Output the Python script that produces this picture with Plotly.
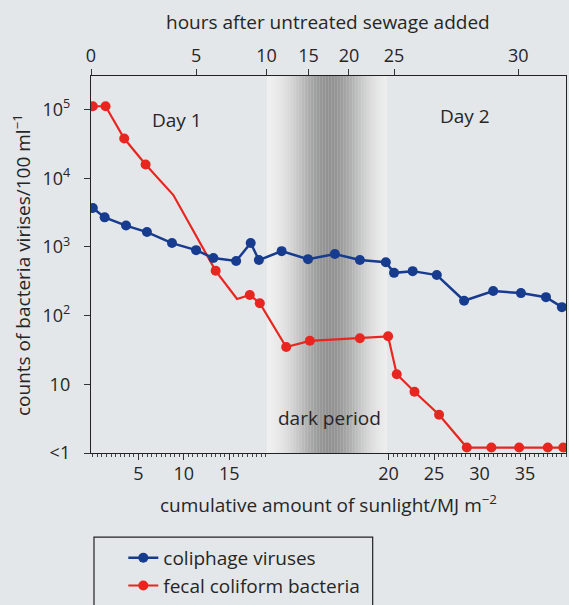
import numpy as np
import plotly.graph_objects as go

# ---- data (x in axis position units along the broken time/sunlight axis) ----
coliphage_x = [0.0, 1.3, 3.65, 5.95, 8.7, 11.35, 13.25, 15.75, 17.35, 18.25, 20.75, 23.65,
               26.6, 29.35, 32.2, 33.1, 35.15, 37.8, 40.8, 44.0, 47.05, 49.8, 51.55]
coliphage_counts = [3700, 2700, 2050, 1650, 1140, 900, 690, 625, 1140, 645, 870, 665,
                    790, 645, 600, 420, 445, 390, 165, 228, 213, 186, 133]

fecal_x = [0.0, 1.4, 3.45, 5.8, 8.85, 13.5, 15.85, 17.25, 18.35, 21.25, 23.85, 29.35,
           32.45, 33.4, 35.35, 38.05, 41.1, 43.8, 46.85, 50.0, 51.7]
fecal_counts = [112000, 112000, 38000, 15900, 5700, 450, 175, 200, 152, 35, 43, 47,
                50, 14, 7.8, 3.6, 1.2, 1.2, 1.2, 1.2, 1.2]
fecal_has_marker = [1, 1, 1, 1, 0, 1, 0, 1, 1, 1, 1, 1, 1, 1, 1, 1, 1, 1, 1, 1, 1]

# bottom axis: cumulative sunlight (MJ m-2); after the dark period the axis is shifted
sun_tick_labels = [5, 10, 15, 20, 25, 30, 35]
sun_offset_after_dark = 12.5
sun_minor = [v / 2 for v in range(0, 39)] + [20 + v / 2 for v in range(0, 40)]

# top axis: hours after sewage added (non-linear), with their axis positions
hour_labels = [0, 5, 10, 15, 20, 25, 30]
hour_pos = [-0.2, 11.35, 19.1, 23.7, 28.15, 33.1, 46.75]

dark_start, dark_end = 19.14, 32.33
x_range = [-0.2, 52.0]
y_range_log = [0, 5.49]
y_tick_vals = [1, 10, 100, 1000, 10000, 100000]
y_tick_text = ["<1", "10", "10<sup>2</sup>", "10<sup>3</sup>", "10<sup>4</sup>", "10<sup>5</sup>"]

BG = "#e3e7ea"
TXT = "#262626"
FONT = "Open Sans"
BLUE = "#173b8e"
RED = "#e8261f"


def sun_pos(v):
    return v if v < 20 else v + sun_offset_after_dark


fig = go.Figure()

# dark period gradient band
n = 80
edges = np.linspace(dark_start, dark_end, n + 1)
for i in range(n):
    t = (i + 0.5) / n
    g = 246 - 100 * np.exp(-((t - 0.52) / 0.3) ** 2)
    g = int(round(g))
    fig.add_shape(type="rect", xref="x", yref="paper", x0=edges[i], x1=edges[i + 1] + 0.02,
                  y0=0, y1=1, line_width=0, fillcolor=f"rgb({g},{g},{g})", layer="below")

# legend frame (extends past the bottom edge as in the reference)
fig.add_shape(type="rect", xref="paper", yref="paper", x0=0.0063, x1=0.593,
              y0=-0.43, y1=-0.223, line=dict(color="#222", width=1.2),
              fillcolor="rgba(0,0,0,0)", layer="above")

# fecal coliform: line through all vertices, markers only on measured points
fig.add_trace(go.Scatter(
    x=fecal_x, y=fecal_counts, mode="lines", line=dict(color=RED, width=2.2),
    showlegend=False, hoverinfo="skip"))
fig.add_trace(go.Scatter(
    x=[x for x, m in zip(fecal_x, fecal_has_marker) if m],
    y=[y for y, m in zip(fecal_counts, fecal_has_marker) if m],
    mode="markers", marker=dict(color=RED, size=10), showlegend=False,
    name="fecal coliform bacteria"))
fig.add_trace(go.Scatter(
    x=coliphage_x, y=coliphage_counts, mode="lines+markers", name="coliphage viruses",
    line=dict(color=BLUE, width=2.5), marker=dict(color=BLUE, size=10),
    showlegend=False))

# legend entries
fig.add_trace(go.Scatter(x=[None], y=[None], mode="lines+markers", name="coliphage viruses",
                         line=dict(color=BLUE, width=2.5), marker=dict(color=BLUE, size=10),
                         legendgroup="a"))
fig.add_trace(go.Scatter(x=[None], y=[None], mode="lines+markers", name="fecal coliform bacteria",
                         line=dict(color=RED, width=2.2), marker=dict(color=RED, size=10),
                         legendgroup="b"))
fig.add_trace(go.Scatter(x=[None], y=[None], xaxis="x2", showlegend=False, hoverinfo="skip"))

fig.update_layout(
    width=569, height=605, autosize=False,
    margin=dict(l=91, r=3, t=76, b=152, autoexpand=False),
    paper_bgcolor=BG, plot_bgcolor=BG,
    font=dict(family=FONT, size=18, color=TXT),
    showlegend=True,
    legend=dict(x=0.068, y=-0.228, xanchor="left", yanchor="top",
                borderwidth=0, bgcolor="rgba(0,0,0,0)",
                font=dict(size=19, color=TXT), traceorder="normal",
                tracegroupgap=7),
    xaxis=dict(range=x_range, showgrid=False, zeroline=False, automargin=False,
               showline=True, linecolor="#222", linewidth=1.4,
               tickmode="array", tickvals=[sun_pos(v) for v in sun_tick_labels],
               ticktext=[str(v) for v in sun_tick_labels],
               ticks="outside", ticklen=6, tickwidth=1.2, tickcolor="#333",
               ticklabelstandoff=-2,
               minor=dict(tickmode="array", tickvals=[sun_pos(v) for v in sun_minor],
                          ticks="outside", ticklen=3, tickwidth=1, tickcolor="#444")),
    xaxis2=dict(range=x_range, overlaying="x", side="top", showgrid=False, zeroline=False,
                automargin=False,
                showline=True, linecolor="#222", linewidth=1.4,
                tickmode="array", tickvals=hour_pos, ticktext=[str(h) for h in hour_labels],
                ticks="outside", ticklen=6, tickwidth=1.2, tickcolor="#333"),
    yaxis=dict(type="log", range=y_range_log, showgrid=False, zeroline=False, automargin=False,
               showline=True, linecolor="#222", linewidth=1.4, mirror=True,
               tickmode="array", tickvals=y_tick_vals, ticktext=y_tick_text,
               ticks="outside", ticklen=6, tickwidth=1.2, tickcolor="#333",
               ticklabelstandoff=10),
)

annos = [
    dict(text="hours after untreated sewage added", x=0.499, y=1.143, xref="paper", yref="paper"),
    dict(text="cumulative amount of sunlight/MJ m<sup>\u22122</sup>", x=0.499, y=-0.135,
         xref="paper", yref="paper"),
    dict(text="counts of bacteria virises/100 ml<sup>\u22121</sup>", x=-0.145, y=0.499,
         xref="paper", yref="paper", textangle=-90),
    dict(text="Day 1", x=9.25, y=0.883, xref="x", yref="paper"),
    dict(text="Day 2", x=40.9, y=0.894, xref="x", yref="paper"),
    dict(text="dark period", x=26.06, y=0.093, xref="x", yref="paper"),
]
for a in annos:
    fig.add_annotation(showarrow=False, xanchor="center", yanchor="middle",
                       font=dict(family=FONT, size=19, color=TXT), **a)

fig.write_html("out.html",
               config={"displayModeBar": False},
               post_script="document.body.style.margin='0px';"
                           "document.body.style.background='" + BG + "';")
